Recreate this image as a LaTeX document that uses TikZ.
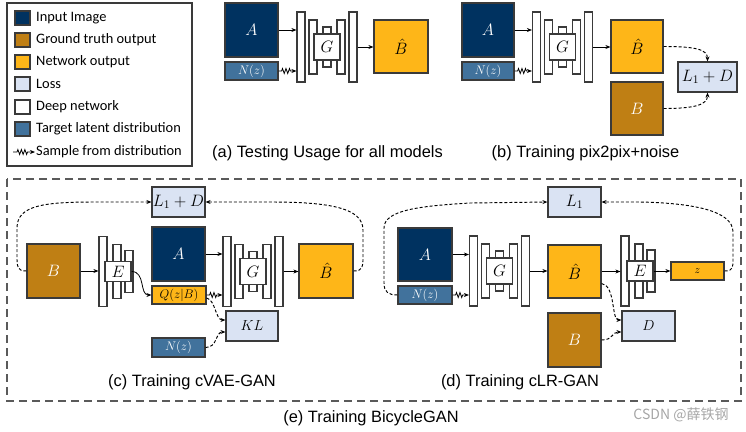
\RequirePackage{fix-cm}
\documentclass[tikz,border=0pt]{standalone}
\usepackage{fontspec}
\setmainfont{Carlito}
\newfontfamily\capfont{Liberation Sans}
\newfontfamily\cjkfont{Noto Sans CJK SC}
\usetikzlibrary{arrows.meta,decorations.pathmorphing}
\definecolor{cin}{RGB}{0,50,96}
\definecolor{cgt}{RGB}{191,127,20}
\definecolor{cout}{RGB}{254,182,24}
\definecolor{closs}{RGB}{218,227,243}
\definecolor{clat}{RGB}{65,114,156}
\definecolor{cbd}{RGB}{58,58,58}
\definecolor{cdash}{RGB}{90,90,90}
\tikzset{
  bx/.style={draw=cbd, line width=1.2pt, inner sep=0pt, anchor=center},
  inimg/.style={bx, fill=cin, text=white},
  gt/.style={bx, fill=cgt, text=white},
  outp/.style={bx, fill=cout, text=black},
  loss/.style={bx, fill=closs, text=black},
  netb/.style={bx, fill=white, text=black},
  lat/.style={bx, fill=clat, text=white},
  bigf/.style={font=\fontsize{16.5}{18}\selectfont},
  midf/.style={font=\fontsize{14.5}{16}\selectfont},
  smf/.style={font=\fontsize{12.5}{14}\selectfont},
  tinyf/.style={font=\fontsize{11}{12}\selectfont},
  arr/.style={-{Stealth[length=5pt,width=4pt]}, line width=0.8pt, black},
  darr/.style={arr, line width=0.95pt, dash pattern=on 3pt off 2pt},
  zz/.style={arr, decorate, decoration={zigzag, segment length=3.5pt, amplitude=2.5pt, pre length=3pt, post length=5pt}},
  legtxt/.style={anchor=west, inner sep=0pt, font=\fontsize{14.4}{16}\selectfont},
  captxt/.style={inner sep=0pt, font=\capfont\fontsize{16.4}{18}\selectfont},
}
\newcommand\mybox[7]{\node[#6, minimum width={(#4)-(#2)}, minimum height={(#5)-(#3)}] (#1) at ({((#2)+(#4))/2},{((#3)+(#5))/2}) {#7};}
\newcommand\gnet[4]{%
  \mybox{#1b1}{#2}{#3-35}{#2+8}{#3+35}{netb}{}%
  \mybox{#1b2}{#2+12}{#3-27}{#2+20}{#3+27}{netb}{}%
  \mybox{#1b3}{#2+26}{#3-20}{#2+34}{#3+20}{netb}{}%
  \mybox{#1b4}{#2+40}{#3-27}{#2+48}{#3+27}{netb}{}%
  \mybox{#1b5}{#2+52}{#3-35}{#2+60}{#3+35}{netb}{}%
  \mybox{#1g}{#2+17}{#3-13}{#2+43}{#3+13}{netb,bigf}{$#4$}}
\newcommand\enet[3]{%
  \mybox{#1e1}{#2}{#3-35}{#2+8}{#3+35}{netb}{}%
  \mybox{#1e2}{#2+14}{#3-27}{#2+22}{#3+27}{netb}{}%
  \mybox{#1e3}{#2+26}{#3-21}{#2+34}{#3+21}{netb}{}%
  \mybox{#1E}{#2+6}{#3-10}{#2+32}{#3+10}{netb,bigf}{$E$}}
\begin{document}
\begin{tikzpicture}[x=1pt,y=-1pt]
\useasboundingbox (0,0) rectangle (746,431);
% ---------------- legend
\draw[draw=cbd, line width=1.2pt] (7,3) rectangle (192,166);
\mybox{l1}{15}{11}{30}{25}{bx,fill=cin}{}
\mybox{l2}{15}{33}{30}{47}{bx,fill=cgt}{}
\mybox{l3}{15}{55}{30}{69}{bx,fill=cout}{}
\mybox{l4}{15}{77}{30}{91}{bx,fill=closs}{}
\mybox{l5}{15}{100}{30}{114}{bx,fill=white}{}
\mybox{l6}{15}{122}{30}{136}{bx,fill=clat}{}
\node[legtxt] (t1) at (36,18) {Input Image};
\node[legtxt] (t2) at (36,40) {Ground truth output};
\node[legtxt] (t3) at (36,62) {Network output};
\node[legtxt] (t4) at (36,84) {Loss};
\node[legtxt] (t5) at (36,107) {Deep network};
\node[legtxt] (t6) at (36,129) {Target latent distribution};
\coordinate (lz1) at (13,152);
\coordinate (lz2) at (35,152);
\draw[zz, decoration={pre length=4pt, post length=6pt}] (lz1) -- (lz2);
\node[legtxt] (t7) at (36,152) {Sample from distribution};
% ---------------- (a)
\mybox{aA}{225}{3}{278}{57}{inimg,bigf}{$A$}
\mybox{aN}{225}{62}{278}{80}{lat,smf}{$N(z)$}
\gnet{a}{297}{47}{G}
\mybox{aBh}{374}{20}{428}{73}{outp,bigf}{$\hat{B}$}
\draw[arr] (aA.east) -- (aA.east -| ab1.west);
\draw[zz] (aN.east) -- (aN.east -| ab1.west);
\draw[arr] (ab5.east) -- (ab5.east -| aBh.west);
\node[captxt] (capa) at (327.5,153) {(a) Testing Usage for all models};
% ---------------- (b)
\mybox{bA}{462}{3}{514}{57}{inimg,bigf}{$A$}
\mybox{bN}{462}{62}{514}{80}{lat,smf}{$N(z)$}
\gnet{b}{532.5}{47}{G}
\mybox{bBh}{611}{20}{663}{73}{outp,bigf}{$\hat{B}$}
\mybox{bB}{611}{82}{663}{135}{gt,bigf}{$B$}
\mybox{bL}{678}{62}{737}{92}{loss,bigf}{$L_1+D$}
\draw[arr] (bA.east) -- (bA.east -| bb1.west);
\draw[zz] (bN.east) -- (bN.east -| bb1.west);
\draw[arr] (bb5.east) -- (bb5.east -| bBh.west);
\draw[darr] (bBh.east) .. controls +(32,0) and +(0,-12) .. (bL.north);
\draw[darr] (bB.east) .. controls +(32,0) and +(0,12) .. (bL.south);
\node[captxt] (capb) at (585.5,153) {(b) Training pix2pix+noise};
% ---------------- outer dashed frame
\draw[draw=cdash, line width=1.5pt, dash pattern=on 8pt off 5pt] (7,179) rectangle (741,401);
\node[captxt] (cape) at (371,418) {(e) Training BicycleGAN};
% ---------------- (c)
\mybox{cL}{152}{187}{205}{217}{loss,bigf}{$L_1+D$}
\mybox{cB}{27}{244}{80}{298}{gt,bigf}{$B$}
\enet{c}{99}{271.5}
\mybox{cA}{152}{227}{205}{281}{inimg,bigf}{$A$}
\mybox{cQ}{152}{286}{206}{304}{outp,smf}{$Q(z|B)$}
\mybox{cKL}{226}{311}{278}{341}{loss,midf}{$KL$}
\mybox{cN}{152}{338}{205}{357}{lat,smf}{$N(z)$}
\gnet{c}{223}{271.5}{G}
\mybox{cBh}{299}{244}{353}{298}{outp,bigf}{$\hat{B}$}
\draw[arr] (cB.east) -- (cB.east -| ce1.west);
\draw[arr] (cE.east) .. controls +(14,0) and +(-12,0) .. (cQ.west);
\draw[arr] (cA.east) -- (cA.east -| cb1.west);
\draw[zz] (cQ.east) -- (cQ.east -| cb1.west);
\draw[arr] (cb5.east) -- (cb5.east -| cBh.west);
\draw[darr] ([yshift=-3pt]cQ.east) .. controls +(9,2) and +(-10,0) .. ([yshift=6pt]cKL.west);
\draw[darr] (cN.east) .. controls +(12,0) and +(-10,0) .. ([yshift=-6pt]cKL.west);
\draw[darr] (cB.west) .. controls +(-9,0) and +(0,9) .. (17,258) -- (17,228) .. controls (17,205) and (45,202) .. (95,202) -- (cL.west);
\draw[darr] (cBh.east) .. controls +(9,0) and +(0,9) .. (363,258) -- (363,230) .. controls (363,208) and (330,202) .. (270,202) -- (cL.east);
\node[captxt] (capc) at (192,382) {(c) Training cVAE-GAN};
% ---------------- (d)
\mybox{dL}{548}{187}{601}{217}{loss,bigf}{$L_1$}
\mybox{dA}{398}{228}{452}{281}{inimg,bigf}{$A$}
\mybox{dN}{398}{286}{452}{304}{lat,smf}{$N(z)$}
\gnet{d}{469.5}{271}{G}
\mybox{dBh}{548}{245}{601}{298}{outp,bigf}{$\hat{B}$}
\enet{d}{621}{271}
\mybox{dz}{671}{262}{724}{280}{outp,tinyf}{$z$}
\mybox{dB}{548}{313}{601}{367}{gt,bigf}{$B$}
\mybox{dD}{622}{311}{675}{341}{loss,midf}{$D$}
\draw[arr] (dA.east) -- (dA.east -| db1.west);
\draw[zz] (dN.east) -- (dN.east -| db1.west);
\draw[arr] (db5.east) -- (db5.east -| dBh.west);
\draw[arr] (dBh.east) -- (dBh.east -| de1.west);
\draw[arr] (dE.east) -- (dE.east -| dz.west);
\draw[darr] ([yshift=-12pt]dBh.east) .. controls +(14,2) and +(-10,0) .. ([yshift=6pt]dD.west);
\draw[darr] (dB.east) .. controls +(12,0) and +(-10,0) .. ([yshift=-6pt]dD.west);
\draw[darr] (dN.west) .. controls +(-9,0) and +(0,9) .. (384,283) -- (384,228) .. controls (384,210) and (420,206) .. (470,203) -- (dL.west);
\draw[darr] (dz.east) .. controls +(9,0) and +(0,9) .. (733,258) -- (733,232) .. controls (733,210) and (690,203) .. (640,202) -- (dL.east);
\node[captxt] (capd) at (520,382) {(d) Training cLR-GAN};
% ---------------- watermark
\node[inner sep=0pt, text=black!35, font=\cjkfont\fontsize{14}{16}\selectfont] (wm) at (681,415) {CSDN @薛铁钢};
\end{tikzpicture}
\end{document}
